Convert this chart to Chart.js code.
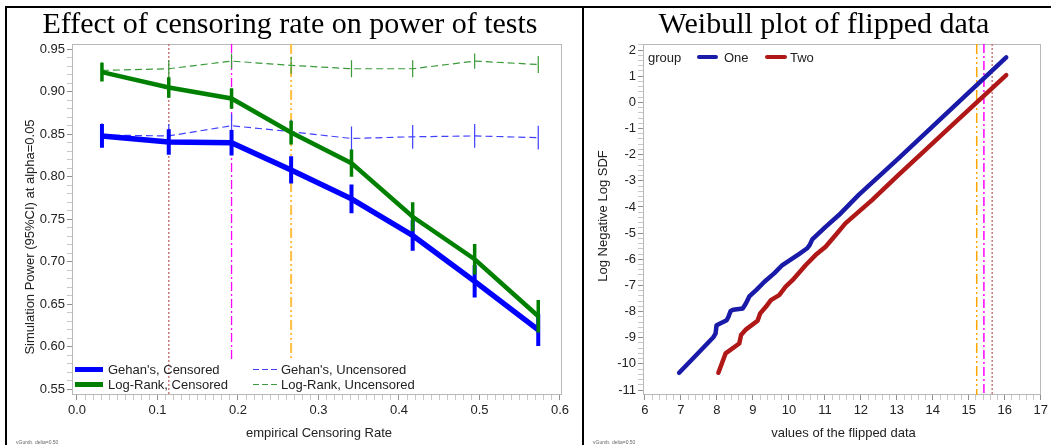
<!DOCTYPE html>
<html><head><meta charset="utf-8">
<script src="https://cdn.jsdelivr.net/npm/chart.js@4.4.1/dist/chart.umd.min.js"></script>
<style>
html,body{margin:0;padding:0;background:#fff;}
body{width:1051px;height:445px;overflow:hidden;position:relative;font-family:"Liberation Sans",Arial,sans-serif;color:#222;}
.abs{position:absolute;white-space:nowrap;}
.title{font-family:"Liberation Serif","Times New Roman",serif;font-size:30px;line-height:30px;color:#000;text-align:center;}
.axt{font-size:13px;line-height:14px;color:#222;font-weight:normal;}
.rot{width:300px;height:14px;text-align:center;transform:rotate(-90deg);transform-origin:150px 7px;}
.leg{font-size:13px;line-height:13px;color:#222;}
.sw{position:absolute;}
.tiny{font-size:5px;line-height:5px;color:#666;}
canvas{position:absolute;}
</style></head><body>

<div class="abs" style="left:5px;top:6px;width:1046px;height:2px;background:#000"></div>
<div class="abs" style="left:5px;top:6px;width:2px;height:439px;background:#000"></div>
<div class="abs" style="left:582px;top:6px;width:2px;height:439px;background:#000"></div>

<canvas id="c1" width="575" height="437" style="left:7px;top:8px;width:575px;height:437px"></canvas>
<canvas id="c2" width="467" height="437" style="left:584px;top:8px;width:467px;height:437px"></canvas>

<div class="abs title" style="left:0px;top:8px;width:580px">Effect of censoring rate on power of tests</div>
<div class="abs title" style="left:584px;top:8px;width:480px">Weibull plot of flipped data</div>

<div class="abs axt" style="left:0px;top:426px;width:638px;text-align:center">empirical Censoring Rate</div>
<div class="abs axt rot" style="left:-120px;top:230px">Simulation Power (95%CI) at alpha=0.05</div>
<div class="abs axt" style="left:643px;top:426px;width:401px;text-align:center">values of the flipped data</div>
<div class="abs axt rot" style="left:453px;top:209px">Log Negative Log SDF</div>

<!-- left legend -->
<div class="sw" style="left:75px;top:367px;width:28px;height:5px;background:#0000ff"></div>
<div class="abs leg" style="left:108px;top:363px">Gehan's, Censored</div>
<div class="sw" style="left:75px;top:382px;width:28px;height:5px;background:#008000"></div>
<div class="abs leg" style="left:108px;top:378px">Log-Rank, Censored</div>
<div class="sw" style="left:253px;top:369px;width:24px;height:1px;background:repeating-linear-gradient(90deg,#4040ff 0 6px,transparent 6px 9px)"></div>
<div class="abs leg" style="left:281px;top:363px">Gehan's, Uncensored</div>
<div class="sw" style="left:253px;top:384px;width:24px;height:1px;background:repeating-linear-gradient(90deg,#3a9a3a 0 6px,transparent 6px 9px)"></div>
<div class="abs leg" style="left:281px;top:378px">Log-Rank, Uncensored</div>

<!-- right legend -->
<div class="abs leg" style="left:648px;top:51px">group</div>
<div class="sw" style="left:697px;top:55px;width:21px;height:4px;background:#1a1aa8;border-radius:2px"></div>
<div class="abs leg" style="left:724px;top:51px">One</div>
<div class="sw" style="left:765px;top:55px;width:22px;height:4px;background:#b01818;border-radius:2px"></div>
<div class="abs leg" style="left:790px;top:51px">Two</div>

<div class="abs tiny" style="left:16px;top:440px">vGumb. delta=0.50</div>
<div class="abs tiny" style="left:593px;top:440px">vGumb. delta=0.50</div>

<script>
// ---------- Left chart data ----------
const censorRate = [0.031, 0.114, 0.192, 0.266, 0.341, 0.417, 0.494, 0.573];

const gehanCens    = [0.848, 0.841, 0.840, 0.808, 0.774, 0.731, 0.677, 0.620];
const gehanCensLo  = [0.834, 0.826, 0.825, 0.792, 0.757, 0.713, 0.658, 0.601];
const gehanCensHi  = [0.862, 0.856, 0.855, 0.824, 0.791, 0.749, 0.696, 0.639];

const logRankCens   = [0.923, 0.905, 0.892, 0.852, 0.816, 0.753, 0.703, 0.636];
const logRankCensLo = [0.912, 0.893, 0.880, 0.838, 0.800, 0.736, 0.685, 0.617];
const logRankCensHi = [0.934, 0.917, 0.904, 0.866, 0.832, 0.770, 0.721, 0.655];

const gehanUncens   = [0.849, 0.848, 0.860, 0.853, 0.845, 0.847, 0.848, 0.846];
const gehanUncensLo = [0.835, 0.834, 0.846, 0.839, 0.831, 0.833, 0.834, 0.832];
const gehanUncensHi = [0.863, 0.862, 0.874, 0.867, 0.859, 0.861, 0.862, 0.860];

const logRankUncens   = [0.925, 0.927, 0.936, 0.931, 0.927, 0.927, 0.936, 0.932];
const logRankUncensLo = [0.915, 0.917, 0.927, 0.921, 0.917, 0.917, 0.927, 0.922];
const logRankUncensHi = [0.935, 0.937, 0.945, 0.941, 0.937, 0.937, 0.945, 0.942];

const refLinesLeft    = [0.114, 0.192, 0.266];
const refLinesLeftEnd = [0.5434, 0.585, 0.585];

const leftXTicks = [0.0, 0.1, 0.2, 0.3, 0.4, 0.5, 0.6];
const leftYTicks = [0.55, 0.60, 0.65, 0.70, 0.75, 0.80, 0.85, 0.90, 0.95];

// ---------- Right chart data ----------
const oneX = [6.95, 7.40, 7.90, 7.96, 7.99, 8.27, 8.32, 8.38, 8.45, 8.72, 8.80, 8.90, 9.09, 9.32, 9.59, 9.82, 10.28, 10.51, 10.58, 10.65, 11.02, 11.39, 11.94, 13.04, 14.50, 16.04];
const oneY = [-10.34, -9.70, -8.98, -8.85, -8.52, -8.33, -8.20, -7.98, -7.93, -7.88, -7.70, -7.42, -7.18, -6.86, -6.54, -6.22, -5.80, -5.58, -5.45, -5.24, -4.76, -4.31, -3.54, -2.15, -0.27, 1.72];

const twoX = [8.04, 8.24, 8.62, 8.67, 8.81, 9.13, 9.20, 9.36, 9.50, 9.73, 9.91, 10.10, 10.47, 10.74, 11.02, 11.30, 11.57, 12.31, 13.04, 14.50, 16.04];
const twoY = [-10.34, -9.60, -9.22, -8.90, -8.68, -8.35, -8.07, -7.82, -7.56, -7.37, -7.05, -6.80, -6.22, -5.84, -5.52, -5.07, -4.63, -3.74, -2.78, -0.92, 1.04];

const refLinesRight = [15.22, 15.42, 15.65];

const rightXTicks = [6, 7, 8, 9, 10, 11, 12, 13, 14, 15, 16, 17];
const rightYTicks = [2, 1, 0, -1, -2, -3, -4, -5, -6, -7, -8, -9, -10, -11];

// ---------- helpers ----------
const pts = (xs, ys) => xs.map((x, i) => ({x, y: ys[i]}));
const bars = (xs, lo, hi) => xs.flatMap((x, i) => [{x, y: lo[i]}, {x, y: hi[i]}, {x, y: null}]);
const isMajor = (v, majors) => majors.some(m => Math.abs(v - m) < 1e-7);

const framePlugin = {
  id: 'frame',
  beforeDatasetsDraw(chart) {
    const {ctx, chartArea: a} = chart;
    ctx.save();
    ctx.strokeStyle = '#b8b8b8';
    ctx.lineWidth = 1;
    ctx.strokeRect(Math.round(a.left) + 0.5, Math.round(a.top) + 0.5, Math.round(a.right - a.left) - 1, Math.round(a.bottom - a.top) - 1);
    ctx.restore();
  }
};

const FONT = {family: '"Liberation Sans", Arial, sans-serif', size: 13};

function axis(min, max, step, majors, fmt, fixed, isX) {
  return {
    type: 'linear', min, max,
    afterFit(s) { if (isX) s.height = fixed; else s.width = fixed; },
    border: {display: false},
    grid: {
      drawOnChartArea: false, drawTicks: true, tickLength: 5,
      tickColor: c => (c.tick && isMajor(c.tick.value, majors)) ? '#909090' : '#c8c8c8',
      tickWidth: 1
    },
    ticks: {
      stepSize: step, includeBounds: false, autoSkip: false,
      maxRotation: 0, minRotation: 0, padding: isX ? 3 : 2,
      color: '#222', font: FONT,
      callback: v => isMajor(v, majors) ? fmt(v) : ''
    }
  };
}

function line(data, color, width, extra) {
  return Object.assign({
    data, borderColor: color, backgroundColor: color, borderWidth: width,
    pointRadius: 0, pointHoverRadius: 0, spanGaps: false, fill: false, tension: 0
  }, extra || {});
}

const common = {
  responsive: false, animation: false, devicePixelRatio: 1,
  plugins: {legend: {display: false}, tooltip: {enabled: false}, title: {display: false}},
  events: []
};

// ---------- Left chart ----------
const LYMIN = 0.5434, LYMAX = 0.9561;
const leftRefStyles = [
  {color: '#c87c7c', dash: [2, 2], w: 1.5},
  {color: '#ff00ff', dash: [9, 3, 2, 3], w: 1.3},
  {color: '#ffbf40', dash: [10, 3, 2, 3, 2, 3], w: 2}
];
new Chart(document.getElementById('c1'), {
  type: 'line',
  data: {
    datasets: [
      line(bars(censorRate, logRankCensLo, logRankCensHi), '#008000', 3.5, {order: 1}),
      line(pts(censorRate, logRankCens), '#008000', 4.5, {order: 2}),
      line(bars(censorRate, gehanCensLo, gehanCensHi), '#0000ff', 4, {order: 3}),
      line(pts(censorRate, gehanCens), '#0000ff', 5.5, {order: 4}),
      line(bars(censorRate, logRankUncensLo, logRankUncensHi), '#3a9a3a', 1.2, {order: 5}),
      line(pts(censorRate, logRankUncens), '#3a9a3a', 1.2, {order: 6, borderDash: [7, 4]}),
      line(bars(censorRate, gehanUncensLo, gehanUncensHi), '#4040ff', 1.2, {order: 7}),
      line(pts(censorRate, gehanUncens), '#4040ff', 1.2, {order: 8, borderDash: [7, 4]}),
      ...refLinesLeft.map((v, i) => line([{x: v, y: LYMAX}, {x: v, y: refLinesLeftEnd[i]}],
        leftRefStyles[i].color, leftRefStyles[i].w, {order: 10 + i, borderDash: leftRefStyles[i].dash}))
    ]
  },
  options: Object.assign({}, common, {
    layout: {padding: {top: 36, right: 20, left: 0, bottom: 0}},
    scales: {
      x: axis(-0.0062, 0.6025, 0.01, leftXTicks, v => v.toFixed(1), 50, true),
      y: axis(LYMIN, LYMAX, 0.01, leftYTicks, v => v.toFixed(2), 65, false)
    }
  }),
  plugins: [framePlugin]
});

// ---------- Right chart ----------
const RYMIN = -11.19, RYMAX = 2.23;
const rightRefStyles = [
  {color: '#ffa500', dash: [10, 3, 2, 3, 2, 3], w: 1.5},
  {color: '#ff00ff', dash: [9, 3, 2, 3], w: 1.5},
  {color: '#c87c7c', dash: [2, 2], w: 1.5}
];
new Chart(document.getElementById('c2'), {
  type: 'line',
  data: {
    datasets: [
      line(pts(oneX, oneY), '#1a1aa8', 4.5, {order: 1, borderCapStyle: 'round', borderJoinStyle: 'round'}),
      line(pts(twoX, twoY), '#b01818', 4.5, {order: 2, borderCapStyle: 'round', borderJoinStyle: 'round'}),
      ...refLinesRight.map((v, i) => line([{x: v, y: RYMAX}, {x: v, y: RYMIN}],
        rightRefStyles[i].color, rightRefStyles[i].w, {order: 10 + i, borderDash: rightRefStyles[i].dash}))
    ]
  },
  options: Object.assign({}, common, {
    layout: {padding: {top: 36, right: 7, left: 0, bottom: 0}},
    scales: {
      x: axis(5.945, 17.02, 0.2, rightXTicks, v => String(Math.round(v)), 50, true),
      y: axis(RYMIN, RYMAX, 0.2, rightYTicks, v => String(Math.round(v)), 59, false)
    }
  }),
  plugins: [framePlugin]
});
</script>
</body></html>
